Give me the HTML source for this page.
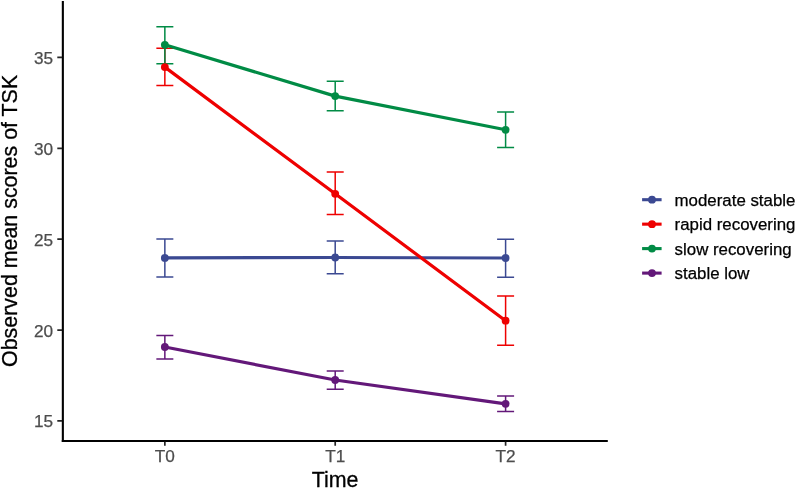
<!DOCTYPE html>
<html>
<head>
<meta charset="utf-8">
<title>Observed mean scores of TSK</title>
<style>
html,body{margin:0;padding:0;background:#fff;}
body{width:796px;height:488px;overflow:hidden;font-family:"Liberation Sans",sans-serif;}
svg{display:block;opacity:0.999;will-change:transform;}
text{font-family:"Liberation Sans",sans-serif;}
.ax{fill:#4d4d4d;font-size:17.2px;stroke:#4d4d4d;stroke-width:0.25px;}
.ttl{fill:#000;font-size:21.4px;stroke:#000;stroke-width:0.3px;}
.lg{fill:#000;font-size:16.85px;stroke:#000;stroke-width:0.25px;}
</style>
</head>
<body>
<svg width="796" height="488" viewBox="0 0 796 488">
<rect x="0" y="0" width="796" height="488" fill="#ffffff"/>

<!-- error bars -->
<g fill="none" stroke-width="1.5" stroke-linecap="butt">
  <!-- moderate stable (blue) -->
  <g stroke="#3B4992">
    <path d="M156.35 239H173.35M164.85 239V276.9M156.35 276.9H173.35"/>
    <path d="M326.7 241H343.7M335.2 241V273.8M326.7 273.8H343.7"/>
    <path d="M497.1 239.2H514.1M505.6 239.2V277.2M497.1 277.2H514.1"/>
  </g>
  <!-- rapid recovering (red) -->
  <g stroke="#EE0000">
    <path d="M156.35 48.3H173.35M164.85 48.3V85.5M156.35 85.5H173.35"/>
    <path d="M326.7 172.1H343.7M335.2 172.1V214.4M326.7 214.4H343.7"/>
    <path d="M497.1 295.9H514.1M505.6 295.9V345.2M497.1 345.2H514.1"/>
  </g>
  <!-- slow recovering (green) -->
  <g stroke="#008B45">
    <path d="M156.35 26.8H173.35M164.85 26.8V63.7M156.35 63.7H173.35"/>
    <path d="M326.7 81.3H343.7M335.2 81.3V110.8M326.7 110.8H343.7"/>
    <path d="M497.1 112.1H514.1M505.6 112.1V147.4M497.1 147.4H514.1"/>
  </g>
  <!-- stable low (purple) -->
  <g stroke="#631879">
    <path d="M156.35 335.4H173.35M164.85 335.4V358.9M156.35 358.9H173.35"/>
    <path d="M326.7 371.1H343.7M335.2 371.1V389.3M326.7 389.3H343.7"/>
    <path d="M497.1 396.1H514.1M505.6 396.1V411.5M497.1 411.5H514.1"/>
  </g>
</g>

<!-- lines -->
<g fill="none" stroke-width="3.2" stroke-linejoin="round" stroke-linecap="butt">
  <polyline stroke="#3B4992" points="164.85,257.9 335.2,257.5 505.6,258"/>
  <polyline stroke="#EE0000" points="164.85,67.1 335.2,193.8 505.6,320.7"/>
  <polyline stroke="#008B45" points="164.85,44.8 335.2,96.1 505.6,129.8"/>
  <polyline stroke="#631879" points="164.85,347 335.2,380 505.6,403.85"/>
</g>

<!-- points -->
<g stroke="none">
  <g fill="#3B4992"><circle cx="164.85" cy="257.9" r="3.9"/><circle cx="335.2" cy="257.5" r="3.9"/><circle cx="505.6" cy="258" r="3.9"/></g>
  <g fill="#EE0000"><circle cx="164.85" cy="67.1" r="3.9"/><circle cx="335.2" cy="193.8" r="3.9"/><circle cx="505.6" cy="320.7" r="3.9"/></g>
  <g fill="#008B45"><circle cx="164.85" cy="44.8" r="3.9"/><circle cx="335.2" cy="96.1" r="3.9"/><circle cx="505.6" cy="129.8" r="3.9"/></g>
  <g fill="#631879"><circle cx="164.85" cy="347" r="3.9"/><circle cx="335.2" cy="380" r="3.9"/><circle cx="505.6" cy="403.85" r="3.9"/></g>
</g>

<!-- axes -->
<g stroke="#000" stroke-width="2.1" fill="none" stroke-linecap="butt">
  <path d="M62.85 1V442.05"/>
  <path d="M61.8 441H607.8"/>
</g>
<!-- ticks -->
<g stroke="#262626" stroke-width="1.7" fill="none">
  <path d="M57.3 57.45H62.2M57.3 148.3H62.2M57.3 239.2H62.2M57.3 330.05H62.2M57.3 420.9H62.2"/>
  <path d="M164.85 441.8V445.8M335.2 441.8V445.8M505.6 441.8V445.8"/>
</g>

<!-- y tick labels -->
<g class="ax" text-anchor="end">
  <text x="53.05" y="63.95">35</text>
  <text x="53.05" y="154.8">30</text>
  <text x="53.05" y="245.7">25</text>
  <text x="53.05" y="336.55">20</text>
  <text x="53.05" y="427.4">15</text>
</g>
<!-- x tick labels -->
<g class="ax" text-anchor="middle">
  <text x="164.85" y="462.25">T0</text>
  <text x="335.2" y="462.25">T1</text>
  <text x="505.6" y="462.25">T2</text>
</g>

<!-- axis titles -->
<text class="ttl" text-anchor="middle" x="335" y="486.8">Time</text>
<text class="ttl" text-anchor="middle" transform="translate(16.9 220.9) rotate(-90)">Observed mean scores of TSK</text>

<!-- legend -->
<g fill="none" stroke-width="3.1">
  <path stroke="#3B4992" d="M642.1 199.7H661.6"/>
  <path stroke="#EE0000" d="M642.1 224.15H661.6"/>
  <path stroke="#008B45" d="M642.1 248.6H661.6"/>
  <path stroke="#631879" d="M642.1 273.1H661.6"/>
</g>
<g stroke="none">
  <circle fill="#3B4992" cx="652" cy="199.7" r="3.9"/>
  <circle fill="#EE0000" cx="652" cy="224.15" r="3.9"/>
  <circle fill="#008B45" cx="652" cy="248.6" r="3.9"/>
  <circle fill="#631879" cx="652" cy="273.1" r="3.9"/>
</g>
<g class="lg">
  <text x="674.6" y="205.55">moderate stable</text>
  <text x="674.6" y="230.0">rapid recovering</text>
  <text x="674.6" y="254.85">slow recovering</text>
  <text x="674.6" y="279.45">stable low</text>
</g>
</svg>
</body>
</html>
